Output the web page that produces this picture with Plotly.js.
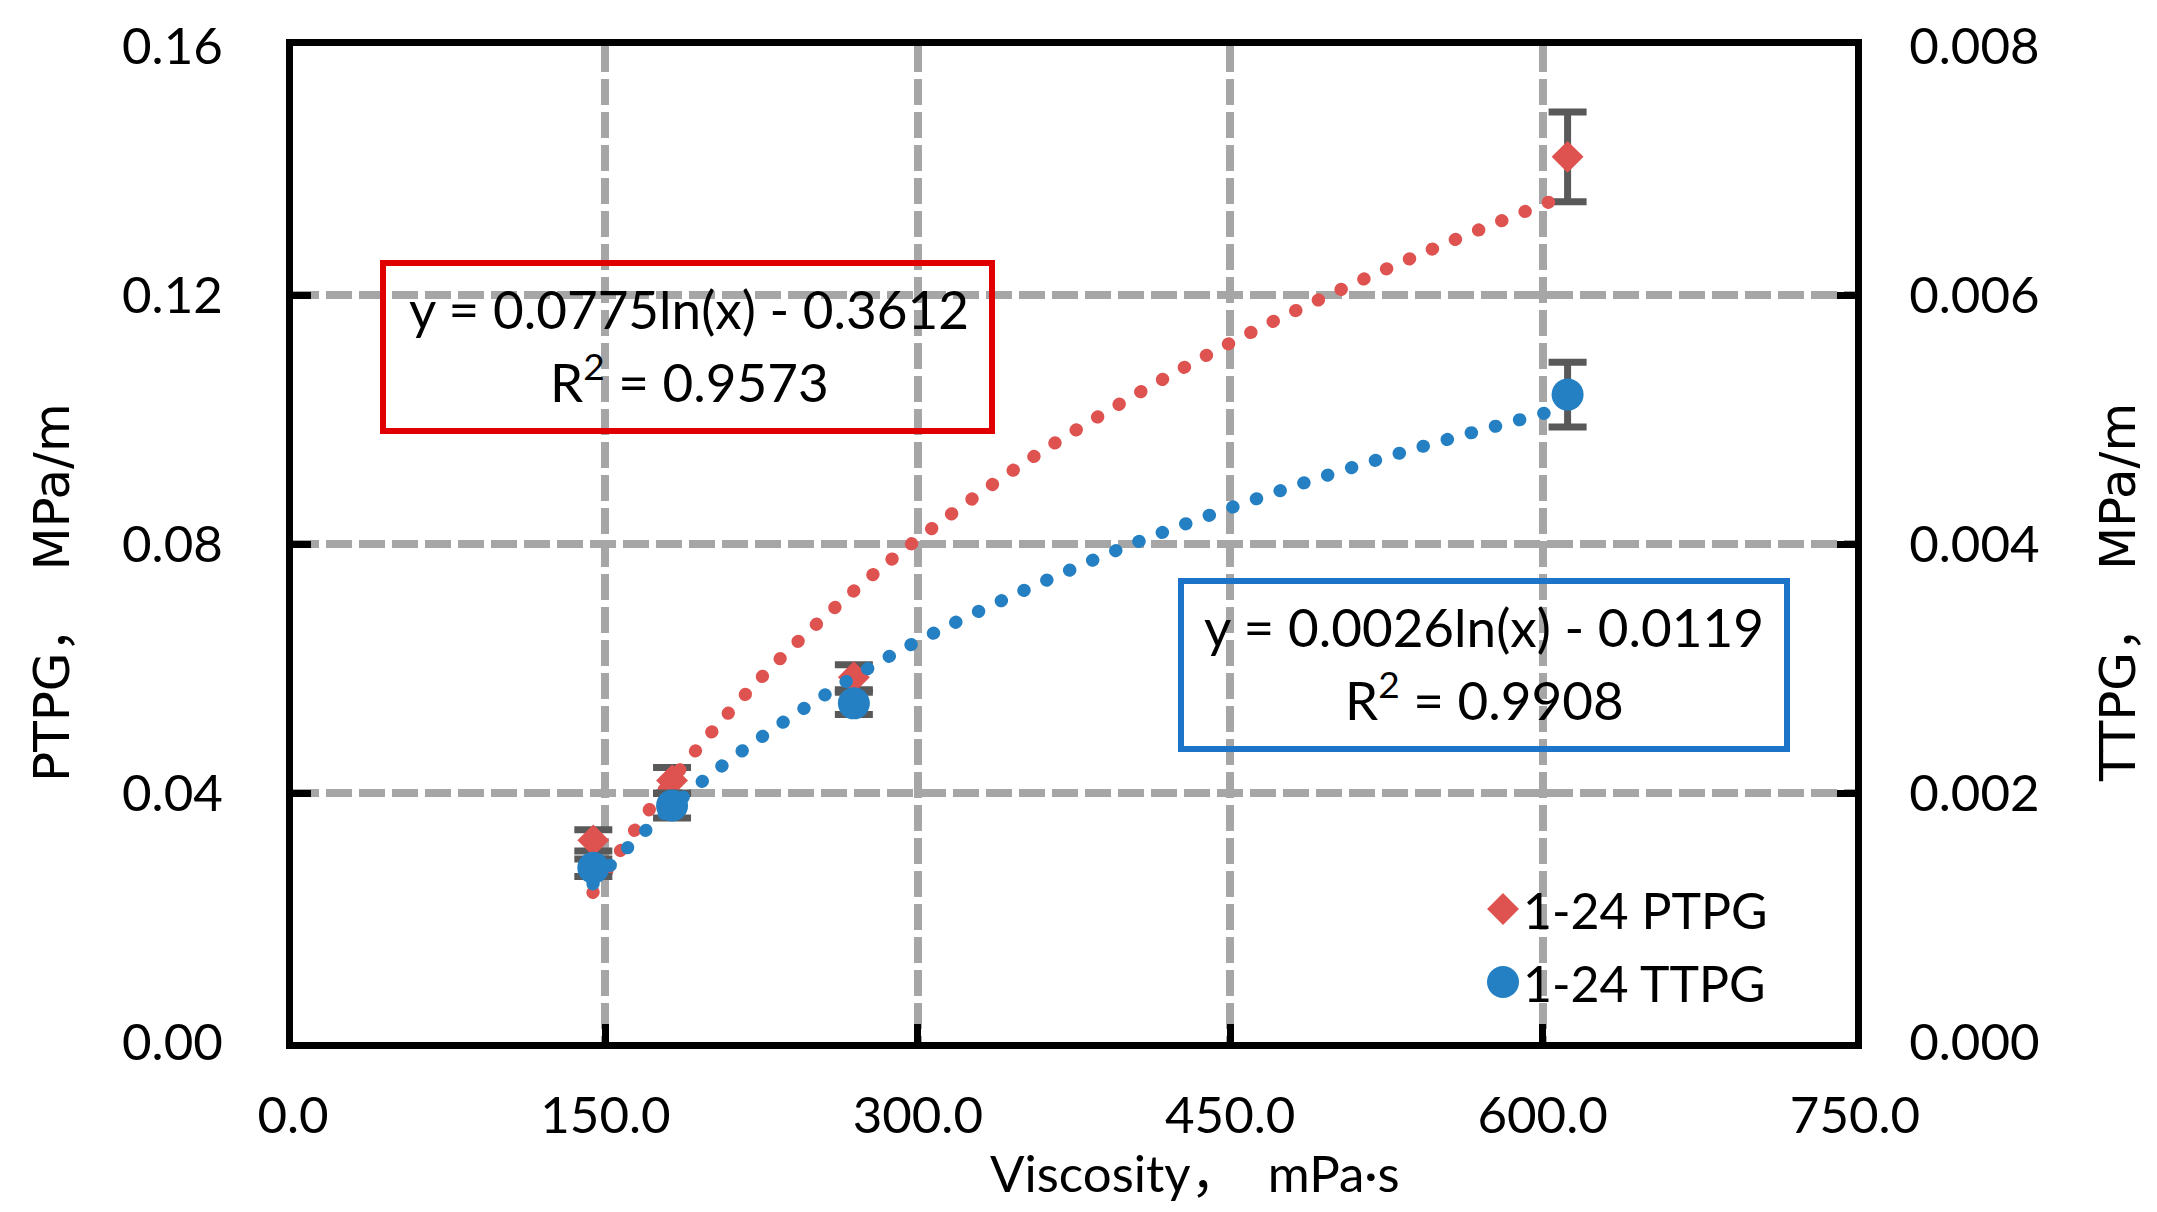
<!DOCTYPE html>
<html><head><meta charset="utf-8">
<script src="https://cdn.plot.ly/plotly-3.0.1.min.js"></script>
<style>
html,body{margin:0;padding:0;background:#fff;}
#chart{width:2157px;height:1212px;}
.js-line{stroke-linecap:round;}
</style>
</head><body>
<div id="chart"></div>
<script>
// ---- data ----
const viscosity = [144.2, 182.0, 269.3, 612.0];
const ptpg      = [0.0324, 0.0420, 0.0586, 0.1422];
const ptpgErr   = [0.0017, 0.0021, 0.0020, 0.0072];
const ttpg      = [0.00140, 0.00190, 0.00272, 0.00520];
const ttpgErr   = [0.00007, 0.00010, 0.00009, 0.00026];

// dotted log trendlines
const trendX    = [144, 160, 180, 200, 225, 250, 275, 300, 350, 400, 450, 500, 550, 612];
const ptpgTrend = [0.0240, 0.0321, 0.0413, 0.0494, 0.0586, 0.0667, 0.0741, 0.0808, 0.0928, 0.1031, 0.1123, 0.1204, 0.1278, 0.1361];
const ttpgTrend = [0.00127, 0.00155, 0.00186, 0.00214, 0.00245, 0.00273, 0.00299, 0.00322, 0.00362, 0.00398, 0.00429, 0.00457, 0.00482, 0.00510];

const seriesNames = ['1-24 PTPG', '1-24 TTPG'];
const xTickVals = [0, 150, 300, 450, 600, 750];
const xTickText = ['0.0', '150.0', '300.0', '450.0', '600.0', '750.0'];
const yTickVals = [0, 0.04, 0.08, 0.12, 0.16];
const yTickText = ['0.00', '0.04', '0.08', '0.12', '0.16'];
const y2TickVals = [0, 0.002, 0.004, 0.006, 0.008];
const y2TickText = ['0.000', '0.002', '0.004', '0.006', '0.008'];
const eqPTPG = ['y = 0.0775ln(x) - 0.3612', 'R<sup>2</sup> = 0.9573'];
const eqTTPG = ['y = 0.0026ln(x) - 0.0119', 'R<sup>2</sup> = 0.9908'];
const xTitle = 'Viscosity，  mPa·s';
const yTitle = 'PTPG，  MPa/m';
const y2Title = 'TTPG，  MPa/m';

// ---- styles ----
const RED = '#DE5250', BLUE = '#2480C2', ERR = '#595959';
const GRID = '#A6A6A6';
const FONT = 'Lato, "Noto Sans", "Noto Sans CJK SC", sans-serif';
const YFONT = '"DejaVu Sans", "Noto Sans CJK SC", sans-serif';

const data = [
  { x: viscosity, y: ptpg, type: 'scatter', mode: 'markers', name: seriesNames[0],
    marker: { symbol: 'diamond', size: 24.5, color: RED, line: { width: 0 } },
    error_y: { type: 'data', array: ptpgErr, visible: true, color: ERR, thickness: 7, width: 19 },
    xaxis: 'x', yaxis: 'y', legendgroup: 'a' },
  { x: trendX, y: ptpgTrend, type: 'scatter', mode: 'lines', showlegend: false,
    line: { color: RED, width: 13, dash: '0.5px,24.5px', shape: 'spline' },
    xaxis: 'x', yaxis: 'y', hoverinfo: 'skip' },
  { x: viscosity, y: ttpg, type: 'scatter', mode: 'markers', name: seriesNames[1],
    marker: { symbol: 'circle', size: 32, color: BLUE, line: { width: 0 } },
    error_y: { type: 'data', array: ttpgErr, visible: true, color: ERR, thickness: 7, width: 19 },
    xaxis: 'x', yaxis: 'y2', legendgroup: 'b' },
  { x: trendX, y: ttpgTrend, type: 'scatter', mode: 'lines', showlegend: false,
    line: { color: BLUE, width: 13, dash: '0.5px,24.5px', shape: 'spline' },
    xaxis: 'x', yaxis: 'y2', hoverinfo: 'skip' }
];

const axisCommon = {
  showline: true, linecolor: '#000', linewidth: 7,
  ticks: 'inside', ticklen: 18, tickwidth: 7, tickcolor: '#000',
  zeroline: false,
  tickfont: { family: FONT, size: 51, color: '#000' }
};

const PL = 293, PR = 302, PT = 46, PB = 170, W = 2157, H = 1212;
const pw = W - PL - PR, ph = H - PT - PB;
const px = v => (v - PL) / pw;
const py = v => (H - PB - v) / ph;

const layout = {
  width: W, height: H,
  margin: { l: PL, r: PR, t: PT, b: PB, pad: 0 },
  paper_bgcolor: '#fff', plot_bgcolor: '#fff',
  showlegend: true,
  xaxis: Object.assign({}, axisCommon, {
    range: [0, 750], tickmode: 'array', tickvals: xTickVals, ticktext: xTickText,
    showgrid: true, gridcolor: GRID, gridwidth: 8, griddash: '26px,7px',
    mirror: true, ticklabelstandoff: 23
  }),
  yaxis: Object.assign({}, axisCommon, {
    range: [0, 0.16], tickmode: 'array', tickvals: yTickVals, ticktext: yTickText,
    showgrid: true, gridcolor: GRID, gridwidth: 8, griddash: '26px,7px',
    ticklabelstandoff: 53
  }),
  yaxis2: Object.assign({}, axisCommon, {
    range: [0, 0.008], tickmode: 'array', tickvals: y2TickVals, ticktext: y2TickText,
    overlaying: 'y', side: 'right', showgrid: false, ticklabelstandoff: 37
  }),
  legend: {
    x: px(1483), y: py(870), xanchor: 'left', yanchor: 'top',
    bgcolor: 'rgba(0,0,0,0)', borderwidth: 0,
    font: { family: FONT, size: 50, color: '#000' },
    traceorder: 'grouped', tracegroupgap: 5, itemwidth: 30
  },
  shapes: [
    { type: 'rect', xref: 'paper', yref: 'paper', x0: px(383), x1: px(992), y0: py(431), y1: py(263),
      line: { color: '#E00000', width: 6 }, fillcolor: 'rgba(0,0,0,0)' },
    { type: 'rect', xref: 'paper', yref: 'paper', x0: px(1181), x1: px(1787), y0: py(749), y1: py(581),
      line: { color: '#1C73C8', width: 6 }, fillcolor: 'rgba(0,0,0,0)' }
  ],
  annotations: [
    { text: eqPTPG[0], xref: 'paper', yref: 'paper', x: px(689), y: py(309), showarrow: false,
      xanchor: 'center', yanchor: 'middle', font: { family: FONT, size: 53, color: '#000' } },
    { text: eqPTPG[1], xref: 'paper', yref: 'paper', x: px(689), y: py(378), showarrow: false,
      xanchor: 'center', yanchor: 'middle', font: { family: FONT, size: 53, color: '#000' } },
    { text: eqTTPG[0], xref: 'paper', yref: 'paper', x: px(1484), y: py(627), showarrow: false,
      xanchor: 'center', yanchor: 'middle', font: { family: FONT, size: 53, color: '#000' } },
    { text: eqTTPG[1], xref: 'paper', yref: 'paper', x: px(1484), y: py(696), showarrow: false,
      xanchor: 'center', yanchor: 'middle', font: { family: FONT, size: 53, color: '#000' } },
    { text: xTitle, xref: 'paper', yref: 'paper', x: px(1195), y: py(1172), showarrow: false,
      xanchor: 'center', yanchor: 'middle', font: { family: FONT, size: 51, color: '#000' } },
    { text: yTitle, xref: 'paper', yref: 'paper', x: px(52), y: py(593), showarrow: false,
      textangle: -90, xanchor: 'center', yanchor: 'middle', font: { family: YFONT, size: 50, color: '#000' } },
    { text: y2Title, xref: 'paper', yref: 'paper', x: px(2118), y: py(593), showarrow: false,
      textangle: -90, xanchor: 'center', yanchor: 'middle', font: { family: YFONT, size: 50, color: '#000' } }
  ]
};

Plotly.newPlot('chart', data, layout, { staticPlot: true, displayModeBar: false }).then(gd => {
  // enlarge legend symbols to match the plotted marker size (Plotly caps them at 16px)
  const sizes = [24.5, 32];
  gd.querySelectorAll('.legend .traces').forEach((tr, i) => {
    const s = sizes[i] || 16;
    const k = s / Math.min(s, 16);
    tr.querySelectorAll('.legendpoints path').forEach(p => {
      const t = p.getAttribute('transform') || '';
      p.setAttribute('transform', t + ' scale(' + k + ')');
    });
  });
});
</script>
</body></html>
